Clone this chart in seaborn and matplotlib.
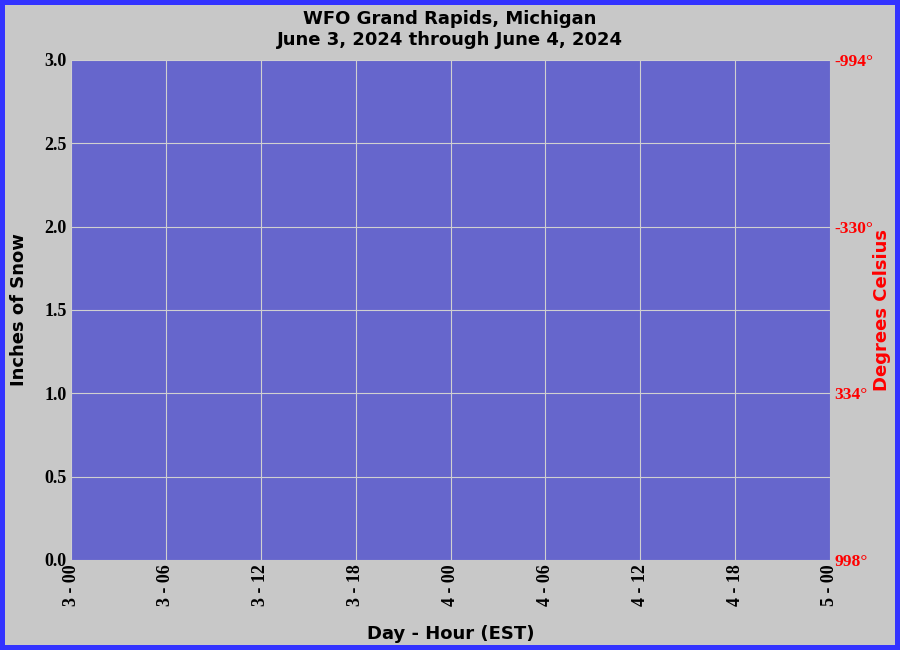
import seaborn as sns
import pandas as pd
import numpy as np
import matplotlib.pyplot as plt

# data (no observations reported for the period)
hours = [0, 6, 12, 18, 24, 30, 36, 42, 48]
hour_labels = ['3 - 00', '3 - 06', '3 - 12', '3 - 18', '4 - 00',
               '4 - 06', '4 - 12', '4 - 18', '5 - 00']
snow_ticks = [0.0, 0.5, 1.0, 1.5, 2.0, 2.5, 3.0]
temp_ticks = [998, 334, -330, -994]
temp_labels = ['998°', '334°', '-330°', '-994°']
obs_hour = []
obs_snow = []

df = pd.DataFrame({'hour': pd.Series(obs_hour, dtype=float),
                   'snow': pd.Series(obs_snow, dtype=float)})

sns.set_style('whitegrid', {'axes.facecolor': '#6666cc',
                            'grid.color': '#d0d0d0',
                            'axes.edgecolor': '#6666cc',
                            'text.color': 'black',
                            'axes.labelcolor': 'black',
                            'xtick.color': 'black',
                            'ytick.color': 'black'})

fig = plt.figure(figsize=(9, 6.5), dpi=100, facecolor='#c8c8c8')
fig.patch.set_edgecolor('#3333ff')
fig.patch.set_linewidth(7.2)
ax = fig.add_axes([71/900, 90/650, 759/900, 500/650])

sns.lineplot(data=df, x='hour', y='snow', ax=ax, color='black')

ax.set_xlim(0, 48)
ax.set_ylim(0, 3)
ax.set_xticks(hours)
ax.set_xticklabels(hour_labels, rotation=90, fontfamily='Liberation Serif',
                   fontweight='bold', fontsize=13)
ax.set_yticks(snow_ticks)
ax.set_yticklabels(['%.1f' % v for v in snow_ticks], fontfamily='Liberation Serif',
                   fontweight='bold', fontsize=13)
ax.tick_params(length=0, pad=3)
ax.grid(True, color='#d0d0d0', linewidth=0.8)
for s in ax.spines.values():
    s.set_visible(False)

ax.set_xlabel('Day - Hour (EST)', fontsize=13, fontweight='bold', labelpad=14,
              color='black')
ax.set_ylabel('Inches of Snow', fontsize=13, fontweight='bold', labelpad=12,
              color='black')

ax2 = ax.twinx()
ax2.set_ylim(998, -994)
ax2.set_yticks(temp_ticks)
ax2.set_yticklabels(temp_labels, color='red', fontfamily='Liberation Serif',
                    fontweight='bold', fontsize=12.5)
ax2.tick_params(length=0, pad=3)
ax2.grid(False)
for s in ax2.spines.values():
    s.set_visible(False)
ax2.set_ylabel('Degrees Celsius', color='red', fontsize=13, fontweight='bold',
               labelpad=0)

fig.text(0.5, 1 - 19/650, 'WFO Grand Rapids, Michigan', ha='center', va='center',
         fontsize=13, fontweight='bold', color='black')
fig.text(0.5, 1 - 40/650, 'June 3, 2024 through June 4, 2024', ha='center',
         va='center', fontsize=13, fontweight='bold', color='black')

fig.savefig('out.png', dpi=100, facecolor=fig.get_facecolor(),
            edgecolor=fig.get_edgecolor())
